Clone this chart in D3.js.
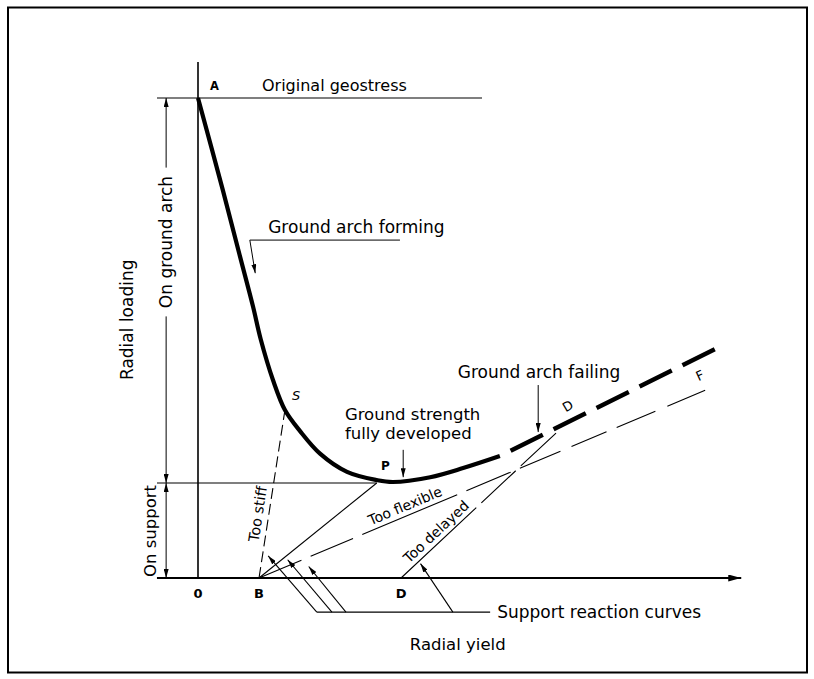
<!DOCTYPE html>
<html><head><meta charset="utf-8">
<script src="https://cdn.jsdelivr.net/npm/d3@7"></script>
<style>
body{margin:0;background:#fff;}
text{font-family:"DejaVu Sans",sans-serif;fill:#000;}
</style></head><body>
<svg id="c" width="814" height="679"></svg>
<script>
// ---- data (yield = x units, load = y units, 0..100) ----
const groundYield = [0, 4.6, 7.8, 10.2, 11.6, 13.9, 16.1, 18.9, 22.6, 27.6, 33.1, 36.1, 43.0, 49.1, 55.9];
const groundLoad  = [100, 80.8, 66.9, 56.5, 49.8, 41.2, 35.0, 30.6, 25.9, 22.1, 20.4, 20.0, 21.0, 22.9, 25.4];
const failingYield = [55.9, 96.1];
const failingLoad  = [25.4, 47.9];
const geostress = 100;
const groundStrength = 19.8;
const supportNames = ["Too stiff", "Just right", "Too flexible", "Too delayed"];
const supportStartYield = [11.3, 11.3, 11.3, 37.6];
const supportStartLoad  = [0, 0, 0, 0];
const supportEndYield   = [16.1, 33.1, 95.4, 66.3];
const supportEndLoad    = [35.0, 19.8, 39.8, 30.2];
const axisLabels = ["0", "B", "D"];
const axisLabelYield = [0, 11.3, 37.6];

const svg = d3.select("#c");
const x = d3.scaleLinear().domain([0, 100]).range([198, 738]);
const y = d3.scaleLinear().domain([0, 100]).range([578, 98]);

const defs = svg.append("defs");
function marker(id, len, wid) {
  defs.append("marker").attr("id", id).attr("markerUnits", "userSpaceOnUse")
    .attr("markerWidth", len).attr("markerHeight", wid).attr("refX", len).attr("refY", wid / 2)
    .attr("orient", "auto").append("path")
    .attr("d", `M0,0L${len},${wid / 2}L0,${wid}Z`).attr("fill", "#000");
}
marker("arr", 9, 5);
marker("axarr", 13, 7);

// frame
svg.append("rect").attr("x", 8).attr("y", 7.5).attr("width", 799).attr("height", 665)
  .attr("fill", "none").attr("stroke", "#000").attr("stroke-width", 2);

const line = (x1, y1, x2, y2, w = 1.2) => svg.append("line")
  .attr("x1", x1).attr("y1", y1).attr("x2", x2).attr("y2", y2)
  .attr("stroke", "#000").attr("stroke-width", w);

// axes
line(x(0), y(0), x(0), y(107.5), 1.6);
line(x(-7.6), y(0), x(100.6), y(0), 2.2).attr("marker-end", "url(#axarr)");
// reference horizontals
line(x(-7.6), y(geostress), x(52.6), y(geostress), 1.1);
line(x(-7.6), y(groundStrength), x(supportEndYield[1]), y(groundStrength), 1.1);

// dimension lines at left
const dimX = x(-5.9);
line(dimX, y(85.5), dimX, y(geostress), 1).attr("marker-end", "url(#arr)");
line(dimX, y(54.5), dimX, y(groundStrength), 1).attr("marker-end", "url(#arr)");
line(dimX, y(10), dimX, y(groundStrength), 1).attr("marker-end", "url(#arr)");
line(dimX, y(10), dimX, y(0), 1).attr("marker-end", "url(#arr)");

svg.append("text").attr("transform", `translate(${dimX + 6},${y(70)}) rotate(-90)`)
  .attr("text-anchor", "middle").attr("font-size", 17).text("On ground arch");
svg.append("text").attr("transform", `translate(${x(-7.8)},${y(9.8)}) rotate(-90)`)
  .attr("text-anchor", "middle").attr("font-size", 16.5).text("On support");
svg.append("text").attr("transform", `translate(${x(-12)},${y(53.8)}) rotate(-90)`)
  .attr("text-anchor", "middle").attr("font-size", 17).text("Radial loading");
svg.append("text").attr("x", x(48.1)).attr("y", y(-15)).attr("text-anchor", "middle")
  .attr("font-size", 16.5).text("Radial yield");

// ground reaction curve
const pts = groundYield.map((v, i) => [x(v), y(groundLoad[i])]);
svg.append("path").attr("d", d3.line().curve(d3.curveCatmullRom.alpha(0.5))(pts))
  .attr("fill", "none").attr("stroke", "#000").attr("stroke-width", 4.2).attr("stroke-linecap", "butt");
svg.append("path").attr("d", d3.line()(failingYield.map((v, i) => [x(v), y(failingLoad[i])])))
  .attr("fill", "none").attr("stroke", "#000").attr("stroke-width", 4.5)
  .attr("stroke-dasharray", "36 12").attr("stroke-dashoffset", 36);

// support reaction lines
const dashes = ["11 5", null, "46 10 46 10 103 10 48 10 44 12 38 11 42 13 41 20", "103 7 47 7 60"];
supportNames.forEach((n, i) => {
  const l = line(x(supportStartYield[i]), y(supportStartLoad[i]), x(supportEndYield[i]), y(supportEndLoad[i]), 1.1);
  if (dashes[i]) l.attr("stroke-dasharray", dashes[i]);
});

// rotated labels along support lines
function alongLabel(i, t, off, txt, size) {
  const x1 = x(supportStartYield[i]), y1 = y(supportStartLoad[i]);
  const x2 = x(supportEndYield[i]), y2 = y(supportEndLoad[i]);
  const ang = Math.atan2(y2 - y1, x2 - x1);
  const px = x1 + (x2 - x1) * t + Math.sin(ang) * off;
  const py = y1 + (y2 - y1) * t - Math.cos(ang) * off;
  svg.append("text").attr("transform", `translate(${px},${py}) rotate(${ang * 180 / Math.PI})`)
    .attr("text-anchor", "middle").attr("font-size", size).text(txt);
}
alongLabel(0, 0.37, 6, "Too stiff", 14.5);
alongLabel(2, 0.33, 5, "Too flexible", 14);
alongLabel(3, 0.27, 5, "Too delayed", 14);

// leader: support reaction curves (parallel arrows from a common baseline)
const leadY = y(-7.1);
line(x(22), leadY, x(54.1), leadY, 1.1);
const leadBaseYield = [22.0, 24.8, 27.4, 47.2];
const leadTipYield  = [13.0, 16.6, 20.5, 41.2];
const leadTipLoad   = [4.6, 3.8, 2.4, 3.0];
leadBaseYield.forEach((b, k) => {
  line(x(b), leadY, x(leadTipYield[k]), y(leadTipLoad[k]), 1.1).attr("marker-end", "url(#arr)");
});
svg.append("text").attr("x", x(55.4)).attr("y", y(-8.3)).attr("font-size", 17).text("Support reaction curves");

// annotations
svg.append("text").attr("x", x(2.2)).attr("y", y(101.7)).attr("font-size", 11.5).attr("font-weight", "bold").text("A");
svg.append("text").attr("x", x(11.85)).attr("y", y(101.5)).attr("font-size", 16).text("Original geostress");
svg.append("text").attr("x", x(13.0)).attr("y", y(71.9)).attr("font-size", 17).text("Ground arch forming");
line(x(9.6), y(70.4), x(37.4), y(70.4), 1);
line(x(9.6), y(70.4), x(10.6), y(63.5), 1).attr("marker-end", "url(#arr)");
svg.append("text").attr("x", x(17.4)).attr("y", y(37.1)).attr("font-size", 13).attr("font-style", "italic").text("S");
svg.append("text").attr("x", x(27.2)).attr("y", y(32.9)).attr("font-size", 16.5).text("Ground strength");
svg.append("text").attr("x", x(27.2)).attr("y", y(29.0)).attr("font-size", 16.5).text("fully developed");
svg.append("text").attr("x", x(33.9)).attr("y", y(22.5)).attr("font-size", 12).attr("font-weight", "bold").text("P");
line(x(38.0), y(26.7), x(38.0), y(21.0), 1).attr("marker-end", "url(#arr)");
svg.append("text").attr("x", x(48.1)).attr("y", y(41.7)).attr("font-size", 17).text("Ground arch failing");
line(x(63.0), y(40.2), x(63.0), y(30.4), 1).attr("marker-end", "url(#arr)");
svg.append("text").attr("transform", `translate(${x(68.9)},${y(35)}) rotate(-30)`).attr("text-anchor", "middle")
  .attr("font-size", 13).text("D");
svg.append("text").attr("transform", `translate(${x(93.3)},${y(41.3)}) rotate(-25)`).attr("text-anchor", "middle")
  .attr("font-size", 13).text("F");
axisLabels.forEach((t, i) => svg.append("text").attr("x", x(axisLabelYield[i])).attr("y", y(-4.2))
  .attr("text-anchor", "middle").attr("font-size", 13).attr("font-weight", "bold").text(t));
</script></body></html>
